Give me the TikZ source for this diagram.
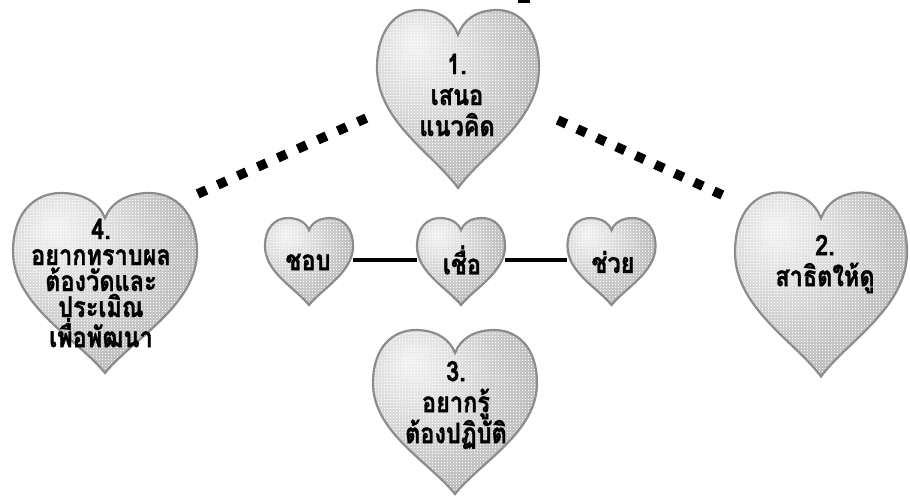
\documentclass[tikz,border=0pt]{standalone}
\usepackage{fontspec}
\usepackage{graphicx}
\newfontfamily\thaifont[Script=Thai, BoldFeatures={FakeBold=1.2}]{Loma}
\usetikzlibrary{patterns}
\pgfdeclareradialshading{heartshade}{\pgfpoint{-14bp}{16bp}}{color(0bp)=(black!5); color(12bp)=(black!12); color(28bp)=(black!23); color(46bp)=(black!32); color(70bp)=(black!36)}
\pgfdeclarepatternformonly{halftone}{\pgfpointorigin}{\pgfpoint{3pt}{3pt}}{\pgfpoint{3pt}{3pt}}{\pgfpathrectangle{\pgfpointorigin}{\pgfpoint{1.2pt}{1.2pt}}\pgfusepath{fill}}
\newcommand\tl[1]{\scalebox{1}[1.2]{#1}}
\tikzset{
  heartbody/.style={preaction={shade, shading=heartshade}, pattern=halftone, pattern color=white, draw=black!45, line width=2.2pt},
  heartbox/.style={draw=none, inner sep=0pt},
  hearttext/.style={font=\thaifont\bfseries\fontsize{23.5}{31}\selectfont, align=center, text=black, inner sep=0pt},
  dotline/.style={line width=9.5pt, dash pattern=on 9.5pt off #1},
  link/.style={line width=4.5pt}
}
\newcommand\hrt[5]{%
  \begin{scope}[shift={(#2,#3)}, x=#4pt, y=#5pt]
    \path[heartbody] (0,-1) .. controls (-0.3,-0.62) and (-1,-0.25) .. (-1,0.35)
      .. controls (-1,0.8) and (-0.75,1) .. (-0.48,1)
      .. controls (-0.22,1) and (-0.06,0.88) .. (0,0.72)
      .. controls (0.06,0.88) and (0.22,1) .. (0.48,1)
      .. controls (0.75,1) and (1,0.8) .. (1,0.35)
      .. controls (1,-0.25) and (0.3,-0.62) .. (0,-1) -- cycle;
  \end{scope}
  \node[heartbox, minimum width=2*#4pt, minimum height=2*#5pt] (#1) at (#2,#3) {};
}
\begin{document}
\begin{tikzpicture}[x=1pt, y=-1pt]
  \useasboundingbox (0,0) rectangle (910,498);
  % hearts
  \hrt{H1}{458}{99}{81}{89}
  \hrt{H4}{105}{283}{92}{90}
  \hrt{H2}{821}{284.5}{86}{92}
  \hrt{H3}{455}{412}{82}{82}
  \hrt{S1}{309}{261.5}{44}{43.5}
  \hrt{S2}{461}{261.5}{44}{43.5}
  \hrt{S3}{611.5}{261.5}{44}{43.5}
  % texts
  \node[hearttext] (T1) at (457,95) {\tl{1.}\\\tl{เสนอ}\\\tl{แนวคิด}};
  \node[hearttext, font=\thaifont\bfseries\fontsize{23.5}{26}\selectfont] (T4) at (101,283) {\tl{4.}\\\tl{อยากทราบผล}\\\tl{ต้องวัดและ}\\\tl{ประเมิณ}\\\tl{เพื่อพัฒนา}};
  \node[hearttext] (T2) at (825,264) {\tl{2.}\\\tl{สาธิตให้ดู}};
  \node[hearttext] (T3) at (456,405) {\tl{3.}\\\tl{อยากรู้}\\\tl{ต้องปฏิบัติ}};
  \node[hearttext] (U1) at (308,262) {\tl{ชอบ}};
  \node[hearttext] (U2) at (462,260) {\tl{เชื่อ}};
  \node[hearttext] (U3) at (613,262) {\tl{ช่วย}};
  % connectors
  \coordinate (L4) at (197.7,193.9);
  \coordinate (L1) at (366.3,118.1);
  \coordinate (R1) at (557.7,120.0);
  \coordinate (R2) at (722.3,195.0);
  \draw[dotline=12.44pt] (L4) -- (L1);
  \draw[dotline=11.93pt] (R1) -- (R2);
  \draw[link] ([yshift=1.5pt]S1.east) -- ([yshift=1.5pt]S2.west);
  \draw[link] ([yshift=1.5pt]S2.east) -- ([yshift=1.5pt]S3.west);
  % small mark at top edge
  \fill[black] (518,0) rectangle (530,3);
\end{tikzpicture}
\end{document}
